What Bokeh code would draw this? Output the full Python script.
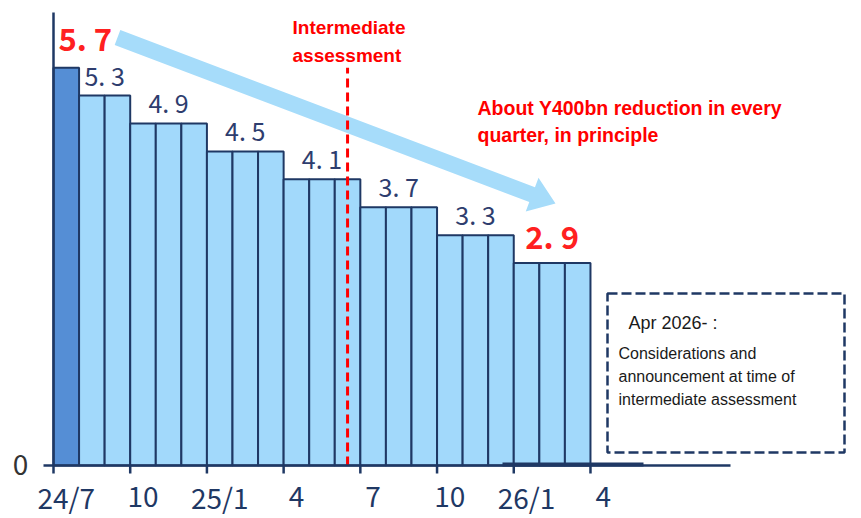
from bokeh.plotting import figure
from bokeh.models import Range1d, ColumnDataSource
from bokeh.core.properties import value
from bokeh.embed import file_html
from bokeh.resources import INLINE
import math

# ---------------- data ----------------
months = ["24/7", "24/8", "24/9", "24/10", "24/11", "24/12",
          "25/1", "25/2", "25/3", "25/4", "25/5", "25/6",
          "25/7", "25/8", "25/9", "25/10", "25/11", "25/12",
          "26/1", "26/2", "26/3"]
purchases = [5.7, 5.3, 5.3, 4.9, 4.9, 4.9, 4.5, 4.5, 4.5, 4.1, 4.1, 4.1,
             3.7, 3.7, 3.7, 3.3, 3.3, 3.3, 2.9, 2.9, 2.9]
group_values = [5.3, 4.9, 4.5, 4.1, 3.7, 3.3]
group_first = [1, 3, 6, 9, 12, 15]
group_len = [2, 3, 3, 3, 3, 3]
start_value = 5.7
end_value = 2.9
end_first, end_len = 18, 3
tick_labels = ["24/7", "10", "25/1", "4", "7", "10", "26/1", "4"]
tick_positions = [0, 3, 6, 9, 12, 15, 18, 21]
assessment_month = 11  # June 2025 bar

# ---------------- layout ----------------
W, H = 861, 518
OX, OY = 53, 465          # pixel position of (0, 0)
PXM, PXU = 25.57, 69.8    # pixels per month / per trillion yen

def px2x(px):
    return (px - OX) / PXM

def px2y(py):
    return (OY - py) / PXU

NAVY = "#1F3864"
LIGHT = "#A2D9FB"
DARK = "#558ED5"
RED = "#FF0000"
LABEL = "#2E3D6E"

p = figure(width=W, height=H, output_backend="svg", toolbar_location=None,
           x_range=Range1d(px2x(0), px2x(W)), y_range=Range1d(px2y(H), px2y(0)),
           x_axis_location=None, y_axis_location=None, min_border=0)
p.grid.visible = False
p.outline_line_color = None
p.background_fill_color = "white"
p.border_fill_color = "white"

# arrow (light blue band)
sx, sy, tx, ty = 117, 37, 555, 203
L = math.hypot(tx - sx, ty - sy)
ux, uy = (tx - sx) / L, (ty - sy) / L
nx, ny = -uy, ux
hw, hl, hhw = 8, 25, 18
bx, by = tx - hl * ux, ty - hl * uy
pts = [(sx + nx * hw, sy + ny * hw), (bx + nx * hw, by + ny * hw),
       (bx + nx * hhw, by + ny * hhw), (tx, ty),
       (bx - nx * hhw, by - ny * hhw), (bx - nx * hw, by - ny * hw),
       (sx - nx * hw, sy - ny * hw)]
p.patch([px2x(a) for a, b in pts], [px2y(b) for a, b in pts],
        fill_color="#A6DCFA", line_color=None)

# bars
src = ColumnDataSource(dict(
    left=list(range(len(months))),
    right=[i + 1 for i in range(len(months))],
    top=purchases,
    color=[DARK] + [LIGHT] * (len(months) - 1),
))
p.quad(left="left", right="right", bottom=0, top="top", source=src,
       fill_color="color", line_color=NAVY, line_width=2)

# intermediate assessment line
p.segment(x0=[assessment_month + 0.5], y0=[0], x1=[assessment_month + 0.5], y1=[start_value],
          line_color=RED, line_width=3, line_dash="9 5")

# axes drawn as lines
p.segment(x0=[0], y0=[0], x1=[0], y1=[px2y(12)], line_color=NAVY, line_width=2.5)
p.segment(x0=[px2x(43)], y0=[0], x1=[px2x(730)], y1=[0], line_color=NAVY, line_width=2.5)
p.segment(x0=[px2x(502)], y0=[px2y(464)], x1=[px2x(643)], y1=[px2y(464)], line_color=NAVY, line_width=4)
p.segment(x0=tick_positions, y0=[0] * len(tick_positions), x1=tick_positions,
          y1=[px2y(473)] * len(tick_positions), line_color=NAVY, line_width=2.5)
p.text(x=[t + 0.5 for t in tick_positions], y=[px2y(496)] * len(tick_positions), text=tick_labels,
       text_align="center", text_baseline="middle", text_color=NAVY,
       text_font=value("Noto Sans CJK JP"), text_font_size="28px")
p.text(x=[px2x(20)], y=[px2y(464)], text=["0"], text_align="center", text_baseline="middle",
       text_color="#333333", text_font=value("Noto Sans CJK JP"), text_font_size="28px")

# value labels
def fmt(v):
    return f"{v:.1f}".replace(".", ". ")

p.text(x=[f + n / 2 for f, n in zip(group_first, group_len)], y=group_values,
       text=[fmt(v) for v in group_values], y_offset=-21,
       text_align="center", text_baseline="middle", text_color=LABEL,
       text_font=value("Noto Sans CJK JP"), text_font_size="25px")
p.text(x=[0.5], y=[start_value], text=[fmt(start_value)], x_offset=19, y_offset=-30,
       text_align="center", text_baseline="middle", text_color="#FF2020",
       text_font=value("Noto Sans CJK JP"), text_font_size="31px", text_font_style="bold")
p.text(x=[end_first + end_len / 2], y=[end_value], text=[fmt(end_value)], y_offset=-28,
       text_align="center", text_baseline="middle", text_color="#FF2020",
       text_font=value("Noto Sans CJK JP"), text_font_size="31px", text_font_style="bold")

# red annotations
p.text(x=[px2x(292)] * 2, y=[px2y(27), px2y(55)], text=["Intermediate", "assessment"],
       text_align="left", text_baseline="alphabetic", text_color=RED,
       text_font=value("Liberation Sans"), text_font_style="bold", text_font_size="19px")
p.text(x=[px2x(477)] * 2, y=[px2y(107), px2y(134)],
       text=["About Y400bn reduction in every", "quarter, in principle"],
       text_align="left", text_baseline="alphabetic", text_color=RED,
       text_font=value("Liberation Sans"), text_font_style="bold", text_font_size="19.5px")

# dashed box
p.quad(left=[px2x(607)], right=[px2x(844)], top=[px2y(293)], bottom=[px2y(452)],
       fill_color=None, line_color=NAVY, line_width=2.5, line_dash="10 4")
p.text(x=[px2x(628)], y=[px2y(322)], text=["Apr 2026- :"], text_align="left",
       text_baseline="alphabetic", text_color="#1A1A1A",
       text_font=value("Liberation Sans"), text_font_size="18px")
p.text(x=[px2x(618)] * 3, y=[px2y(353), px2y(376), px2y(399)],
       text=["Considerations and", "announcement at time of", "intermediate assessment"],
       text_align="left", text_baseline="alphabetic", text_color="#1A1A1A",
       text_font=value("Liberation Sans"), text_font_size="16px")

open("out.html", "w").write(file_html(p, INLINE))
